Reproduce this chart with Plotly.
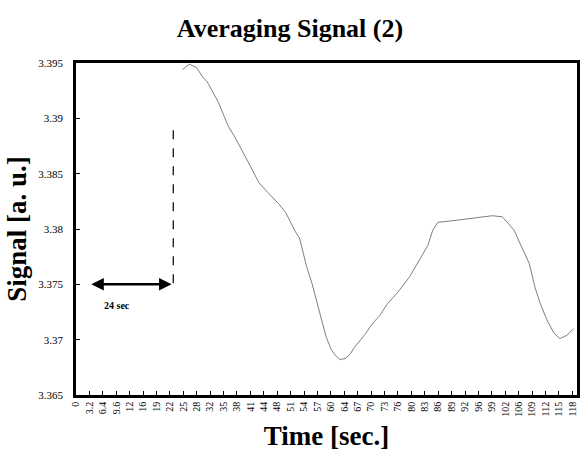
import plotly.graph_objects as go

# Data
time_s = [25.4, 27.0, 28.7, 30.3, 31.3, 33.9, 36.3, 37.9, 41.7, 43.6, 46.0, 48.3, 50.0,
          52.4, 53.3, 55.0, 56.2, 57.8, 58.5, 59.7, 60.9, 61.8, 63.0, 64.2, 65.4, 66.4,
          69.0, 70.6, 72.5, 74.2, 75.6, 76.8, 79.6, 82.0, 83.9, 85.1, 86.3, 91.0, 95.7,
          99.3, 101.7, 103.3, 104.5, 105.9, 108.1, 109.5, 110.7, 112.3, 114.0, 115.4,
          117.1, 118.7]
signal = [3.3944, 3.3949, 3.3946, 3.3937, 3.3933, 3.3915, 3.3893, 3.3883, 3.3856, 3.3842,
          3.3832, 3.3823, 3.3815, 3.3797, 3.3792, 3.3766, 3.3752, 3.3730, 3.3719, 3.3702,
          3.3691, 3.3686, 3.3682, 3.3683, 3.3687, 3.3693, 3.3705, 3.3714, 3.3722, 3.3732,
          3.3738, 3.3743, 3.3757, 3.3772, 3.3785, 3.3799, 3.3806, 3.3808, 3.3810, 3.3812,
          3.3811, 3.3804, 3.3799, 3.3787, 3.3769, 3.3747, 3.3733, 3.3718, 3.3706, 3.3701,
          3.3704, 3.3710]

tick_vals = [round(3.2 * i, 1) for i in range(38)]
tick_text = ["0", "3.2", "6.4", "9.6", "12", "16", "19", "22", "25", "28", "32", "35", "38",
             "41", "44", "48", "51", "54", "57", "60", "64", "67", "70", "73", "76", "80",
             "83", "86", "89", "92", "96", "99", "102", "106", "109", "112", "115", "118"]

# Annotation values
delay_time = 23.2
delay_line_top = 3.3894
delay_line_bottom = 3.3751
arrow_start = 3.3
arrow_level = 3.3750
delay_label = "24 sec"

serif = "Liberation Serif"

fig = go.Figure()
fig.add_trace(go.Scatter(x=time_s, y=signal, mode="lines",
                         line=dict(color="#7f7f7f", width=1), showlegend=False))

# dashed vertical marker
fig.add_shape(type="line", x0=delay_time, x1=delay_time, y0=delay_line_bottom,
              y1=delay_line_top, line=dict(color="black", width=1.2, dash="dash"))
# double arrow
fig.add_annotation(x=delay_time - 0.4, y=arrow_level, ax=arrow_start, ay=arrow_level,
                   xref="x", yref="y", axref="x", ayref="y", text="",
                   showarrow=True, arrowhead=2, arrowsize=1, arrowwidth=2.5,
                   arrowcolor="black", startarrowhead=2, startarrowsize=1,
                   arrowside="end+start")
fig.add_annotation(x=(arrow_start + delay_time) / 2 - 3.5, y=arrow_level - 0.0019,
                   text="<b>" + delay_label + "</b>", showarrow=False,
                   font=dict(family=serif, size=10, color="black"))

fig.update_layout(
    width=580, height=459,
    margin=dict(l=76, r=3, t=63, b=64),
    paper_bgcolor="white", plot_bgcolor="white",
    title=dict(text="<b>Averaging Signal (2)</b>", x=0.5, xanchor="center",
               y=0.939, yanchor="middle",
               font=dict(family=serif, size=26, color="black")),
    font=dict(family=serif, color="black"),
    xaxis=dict(range=[0, 119.5], tickmode="array", tickvals=tick_vals, ticktext=tick_text,
               tickangle=-90, tickfont=dict(family=serif, size=10, color="black"),
               ticks="inside", ticklen=4, tickcolor="black", showgrid=False,
               zeroline=False, showline=True, linecolor="black", linewidth=2.5,
               mirror=True, automargin=False,
               title=dict(text="<b>Time [sec.]</b>", standoff=11,
                          font=dict(family=serif, size=27, color="black"))),
    yaxis=dict(range=[3.365, 3.395], dtick=0.005, tick0=3.365,
               tickfont=dict(family=serif, size=11, color="black"),
               ticks="inside", ticklen=4, tickcolor="black", showgrid=False,
               zeroline=False, showline=True, linecolor="black", linewidth=2.5,
               mirror=True, automargin=False, ticklabelstandoff=8,
               title=dict(text="<b>Signal [a. u.]</b>", standoff=4,
                          font=dict(family=serif, size=27, color="black"))),
)

fig.write_html("out.html", post_script="document.body.style.margin='0';",
               config={"displayModeBar": False})
